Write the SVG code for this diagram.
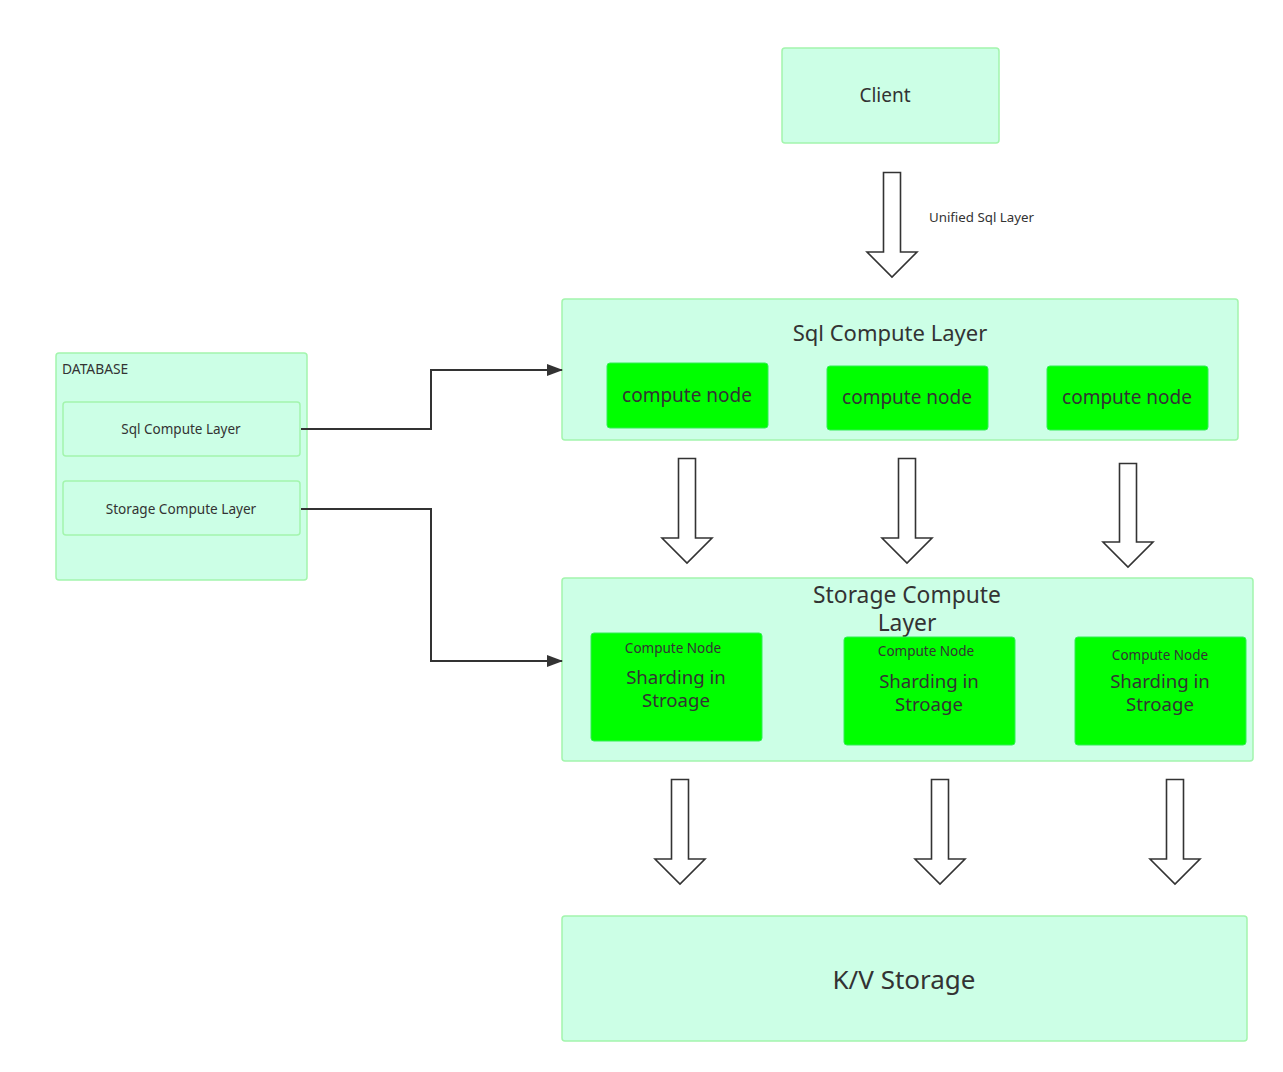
<svg xmlns="http://www.w3.org/2000/svg" width="1283" height="1072" viewBox="0 0 1283 1072">
<defs>
<style>
.box{fill:#ccffe6;stroke:#a3f5ad;stroke-width:1.5}
.node{fill:#00ff00;stroke:#33ee55;stroke-width:1}
.t{font-family:"Noto Sans","Open Sans",sans-serif;fill:#333;text-anchor:middle;dominant-baseline:central}
.bigarrow{fill:#fff;stroke:#333;stroke-width:1.6;stroke-linejoin:miter}
.conn{fill:none;stroke:#333;stroke-width:2}
</style>
<marker id="ah" markerWidth="16" markerHeight="12" refX="15" refY="6" orient="auto" markerUnits="userSpaceOnUse">
<path d="M0,0 L16,6 L0,12 Z" fill="#333"/>
</marker>
</defs>
<rect width="1283" height="1072" fill="#fff"/>

<g id="client">
<rect class="box" x="782" y="48" width="217" height="95" rx="3"/>
<text class="t" x="885" y="95" font-size="19">Client</text>
</g>

<g id="unified-label">
<text x="929" y="217" font-size="13.3" font-family="Noto Sans, sans-serif" fill="#333" dominant-baseline="central">Unified Sql Layer</text>
</g>

<g id="database">
<rect class="box" x="56" y="353" width="251" height="227" rx="3"/>
<text x="62" y="368" font-size="13.8" font-family="Noto Sans, sans-serif" fill="#333" dominant-baseline="central">DATABASE</text>
</g>
<g id="db-sql">
<rect class="box" x="63" y="402" width="237" height="54" rx="3"/>
<text class="t" x="181" y="429" font-size="13.5">Sql Compute Layer</text>
</g>
<g id="db-storage">
<rect class="box" x="63" y="481" width="237" height="54" rx="3"/>
<text class="t" x="181" y="508" font-size="13.6">Storage Compute Layer</text>
</g>

<g id="sql-layer">
<rect class="box" x="562" y="299" width="676" height="141" rx="3"/>
<text class="t" x="890" y="332" font-size="22">Sql Compute Layer</text>
</g>
<g id="cn1">
<rect class="node" x="607" y="363" width="161" height="65" rx="3"/>
<text class="t" x="687" y="395" font-size="19">compute node</text>
</g>
<g id="cn2">
<rect class="node" x="827" y="366" width="161" height="64" rx="3"/>
<text class="t" x="907" y="397" font-size="19">compute node</text>
</g>
<g id="cn3">
<rect class="node" x="1047" y="366" width="161" height="64" rx="3"/>
<text class="t" x="1127" y="397" font-size="19">compute node</text>
</g>

<g id="storage-layer">
<rect class="box" x="562" y="578" width="691" height="183" rx="3"/>
<text class="t" font-size="22.8"><tspan x="907" y="594">Storage Compute</tspan><tspan x="907" y="622">Layer</tspan></text>
</g>
<g id="sn1">
<rect class="node" x="591" y="633" width="171" height="108" rx="3"/>
<text class="t" x="673" y="648" font-size="13.5">Compute Node</text>
<text class="t" font-size="18.6"><tspan x="676" y="676">Sharding in</tspan><tspan x="676" y="699">Stroage</tspan></text>
</g>
<g id="sn2">
<rect class="node" x="844" y="637" width="171" height="108" rx="3"/>
<text class="t" x="926" y="651" font-size="13.5">Compute Node</text>
<text class="t" font-size="18.6"><tspan x="929" y="680">Sharding in</tspan><tspan x="929" y="703">Stroage</tspan></text>
</g>
<g id="sn3">
<rect class="node" x="1075" y="637" width="171" height="108" rx="3"/>
<text class="t" x="1160" y="655" font-size="13.5">Compute Node</text>
<text class="t" font-size="18.6"><tspan x="1160" y="680">Sharding in</tspan><tspan x="1160" y="703">Stroage</tspan></text>
</g>

<g id="kv">
<rect class="box" x="562" y="916" width="685" height="125" rx="3"/>
<text class="t" x="904" y="979" font-size="26">K/V Storage</text>
</g>

<g id="connectors">
<path class="conn" d="M301,429 H431 V370 H562" marker-end="url(#ah)"/>
<path class="conn" d="M301,509 H431 V661 H562" marker-end="url(#ah)"/>
<path class="bigarrow" d="M883.5,172.5 H900.5 V252 H917 L892,277 L867,252 H883.5 Z"/>
<path class="bigarrow" d="M678.5,458.5 H695.5 V538 H712 L687,563 L662,538 H678.5 Z"/>
<path class="bigarrow" d="M898.5,458.5 H915.5 V538 H932 L907,563 L882,538 H898.5 Z"/>
<path class="bigarrow" d="M1119.5,463.5 H1136.5 V542 H1153 L1128,567 L1103,542 H1119.5 Z"/>
<path class="bigarrow" d="M671.5,779.5 H688.5 V859 H705 L680,884 L655,859 H671.5 Z"/>
<path class="bigarrow" d="M931.5,779.5 H948.5 V859 H965 L940,884 L915,859 H931.5 Z"/>
<path class="bigarrow" d="M1166.5,779.5 H1183.5 V859 H1200 L1175,884 L1150,859 H1166.5 Z"/>
</g>
</svg>
